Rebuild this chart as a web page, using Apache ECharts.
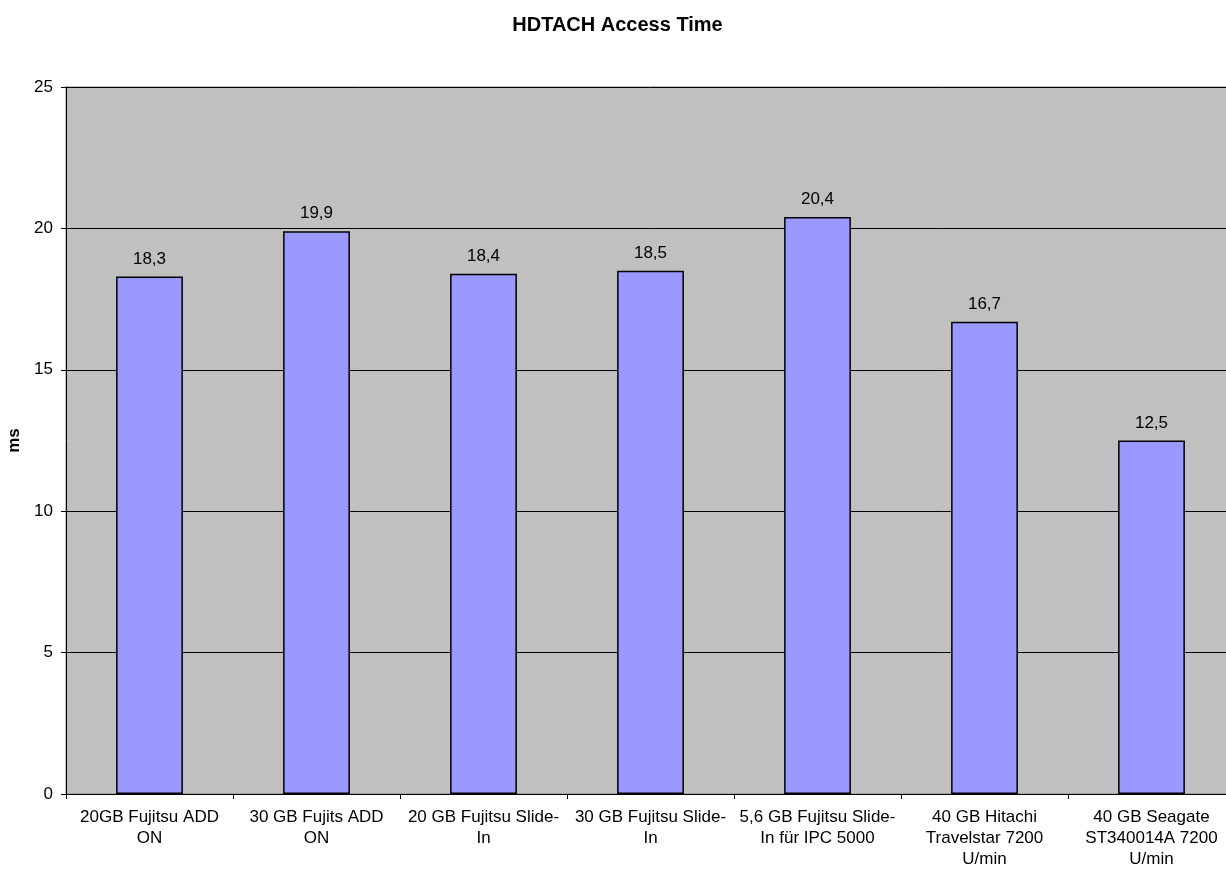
<!DOCTYPE html>
<html>
<head>
<meta charset="utf-8">
<title>HDTACH Access Time</title>
<script src="https://cdn.jsdelivr.net/npm/echarts@6/dist/echarts.min.js"></script>
<style>
	html, body { margin: 0; padding: 0; background: #fff; overflow: hidden; }
	/* Zeichenfläche ist etwas breiter als das Fenster: der Plot ragt rechts hinaus */
	#chart { width: 1235px; height: 869px; }
</style>
</head>
<body>
<div id="chart"></div>
<script>
// Laufwerke (Kategorien)
const categories = [
	'20GB Fujitsu ADD\nON',
	'30 GB Fujits ADD\nON',
	'20 GB Fujitsu Slide-\nIn',
	'30 GB Fujitsu Slide-\nIn',
	'5,6 GB Fujitsu Slide-\nIn für IPC 5000',
	'40 GB Hitachi\nTravelstar 7200\nU/min',
	'40 GB Seagate\nST340014A 7200\nU/min'
];
// Zugriffszeit in ms
const accessTime = [18.3, 19.9, 18.4, 18.5, 20.4, 16.7, 12.5];
const yTicks = [0, 5, 10, 15, 20, 25];

const font = '"Liberation Sans", Arial, sans-serif';
const myChart = echarts.init(document.getElementById('chart'));

const option = {
	backgroundColor: '#fff',
	animation: false,
	title: {
		text: 'HDTACH Access Time',
		left: 'center',
		top: 10,
		textStyle: { fontFamily: font, fontSize: 20, fontWeight: 'bold', color: '#000' }
	},
	grid: {
		left: 66,
		right: 0,
		top: 87,
		bottom: 75,
		containLabel: false,
		outerBoundsMode: 'none',
		show: true,
		backgroundColor: '#c0c0c0',
		borderColor: '#808080',
		borderWidth: 1
	},
	xAxis: {
		type: 'category',
		data: categories,
		axisLine: { lineStyle: { color: '#000' } },
		axisTick: { show: true, length: 5, lineStyle: { color: '#000' } },
		axisLabel: {
			interval: 0,
			margin: 13,
			color: '#000',
			fontFamily: font,
			fontSize: 17,
			lineHeight: 21,
			align: 'center'
		}
	},
	yAxis: {
		type: 'value',
		min: yTicks[0],
		max: yTicks[yTicks.length - 1],
		interval: 5,
		name: 'ms',
		nameLocation: 'middle',
		nameGap: 42,
		nameRotate: 90,
		nameTextStyle: { fontFamily: font, fontSize: 17, fontWeight: 'bold', color: '#000' },
		axisLine: { show: true, lineStyle: { color: '#000' } },
		axisTick: { show: true, length: 5, lineStyle: { color: '#000' } },
		axisLabel: { color: '#000', fontFamily: font, fontSize: 17, margin: 13 },
		splitLine: { show: true, lineStyle: { color: '#000', width: 1 } }
	},
	series: [
		{
			type: 'bar',
			data: accessTime,
			barWidth: '40%',
			itemStyle: { color: '#9999ff', borderColor: '#000', borderWidth: 1.5 },
			label: {
				show: true,
				position: 'top',
				distance: 9,
				color: '#000',
				fontFamily: font,
				fontSize: 17,
				formatter: p => String(p.value).replace('.', ',')
			}
		}
	]
};

myChart.setOption(option);
window.addEventListener('resize', () => myChart.resize());
</script>
</body>
</html>
